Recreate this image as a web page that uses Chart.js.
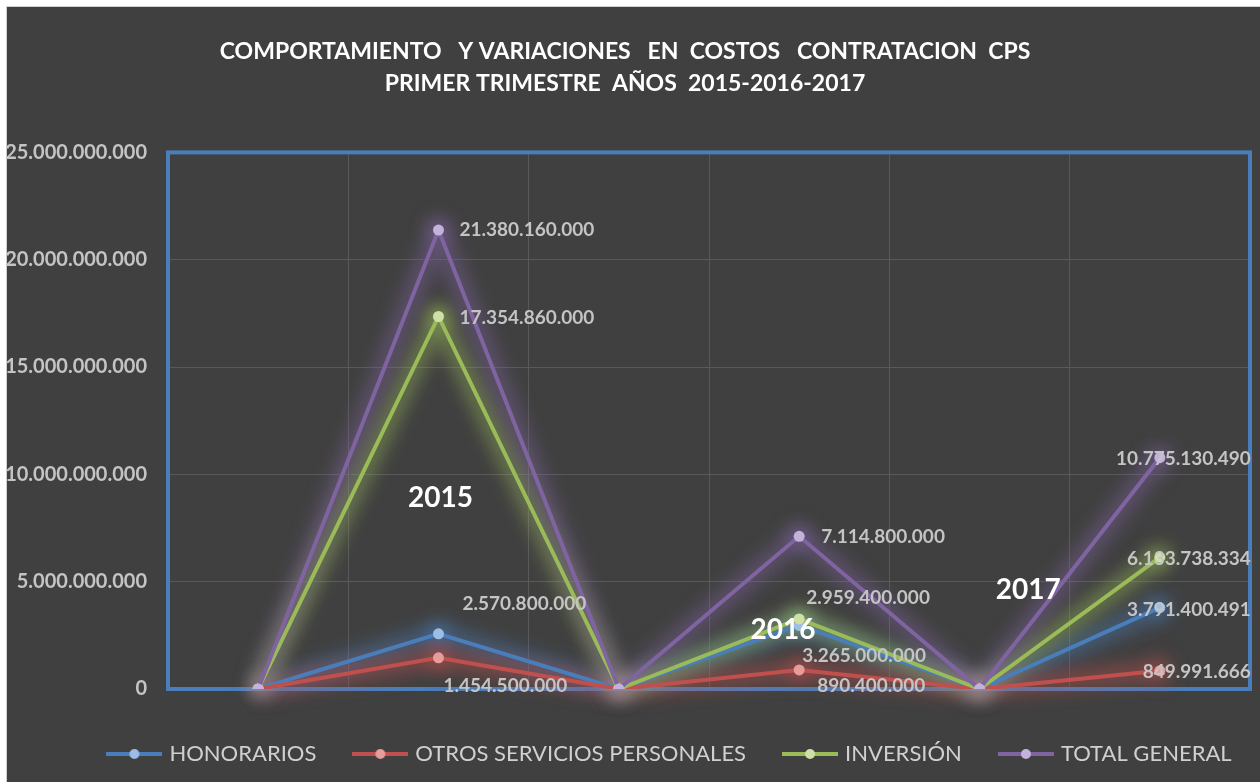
<!DOCTYPE html>
<html>
<head>
<meta charset="utf-8">
<script src="https://cdn.jsdelivr.net/npm/chart.js@4.4.1/dist/chart.umd.min.js"></script>
<style>
  html, body { margin: 0; padding: 0; background: #fff; }
</style>
</head>
<body>
<canvas id="chart1" width="1260" height="782"></canvas>
<script>
// datos del grafico
var categorias = ['', '2015', '', '2016', '', '2017'];
var honorarios = [0, 2570800000, 0, 2959400000, 0, 3791400491];
var otros = [0, 1454500000, 0, 890400000, 0, 849991666];
var inversion = [0, 17354860000, 0, 3265000000, 0, 6133738334];
var totalGeneral = [0, 21380160000, 0, 7114800000, 0, 10775130490];
var ticksY = [0, 5000000000, 10000000000, 15000000000, 20000000000, 25000000000];
var anios = ['2015', '2016', '2017'];

function puntos(n) {
  return String(n).replace(/\B(?=(\d{3})+(?!\d))/g, '.');
}

function iconoLeyenda(linea, punto) {
  var c = document.createElement('canvas');
  c.width = 56; c.height = 12;
  var g = c.getContext('2d');
  g.strokeStyle = linea; g.lineWidth = 4;
  g.beginPath(); g.moveTo(0, 6); g.lineTo(56, 6); g.stroke();
  g.fillStyle = punto;
  g.beginPath(); g.arc(28, 6, 5, 0, Math.PI * 2); g.fill();
  return c;
}

var colores = ['#4a7ebb', '#c0504d', '#9bbb59', '#8064a2'];
var coloresPunto = ['#9cbde6', '#e59c9a', '#cfe0a6', '#c2b2dc'];
var brillo = ['rgba(74,126,187,0.5)', 'rgba(192,80,77,0.5)', 'rgba(155,187,89,0.5)', 'rgba(128,100,162,0.5)'];
var iconos = colores.map(function (c, i) { return iconoLeyenda(c, coloresPunto[i]); });

// posicion de cada etiqueta respecto a su punto [dx, dy, align]
var posEtiquetas = [
  { 1: [24, -30, 'left'], 3: [7, -28, 'left'], 5: [91, 2, 'right'] },
  { 1: [5, 28, 'left'], 3: [18, 16, 'left'], 5: [91, 1, 'right'] },
  { 1: [21, 1, 'left'], 3: [3, 37, 'left'], 5: [91, 2, 'right'] },
  { 1: [21, 0, 'left'], 3: [22, 1, 'left'], 5: [91, 1, 'right'] }
];

var fondo = {
  id: 'fondo',
  beforeDraw: function (chart) {
    var ctx = chart.ctx;
    ctx.save();
    ctx.fillStyle = '#ffffff';
    ctx.fillRect(0, 0, chart.width, chart.height);
    ctx.fillStyle = '#404040';
    ctx.fillRect(7, 7, chart.width - 7, chart.height - 7);
    ctx.strokeStyle = '#cfcfcf';
    ctx.lineWidth = 1;
    ctx.beginPath();
    ctx.moveTo(6.5, chart.height); ctx.lineTo(6.5, 6.5); ctx.lineTo(chart.width, 6.5);
    ctx.stroke();
    ctx.restore();
  }
};

var marco = {
  id: 'marco',
  beforeDatasetsDraw: function (chart) {
    var a = chart.chartArea, ctx = chart.ctx;
    ctx.save();
    ctx.strokeStyle = '#4a7ebb';
    ctx.lineWidth = 4;
    ctx.strokeRect(a.left, a.top, a.right - a.left, a.bottom - a.top);
    // resplandor de las lineas
    ctx.filter = 'blur(9px)';
    ctx.lineJoin = 'round';
    for (var i = 0; i < chart.data.datasets.length; i++) {
      var pts = chart.getDatasetMeta(i).data;
      var vals = chart.data.datasets[i].data;
      ctx.strokeStyle = brillo[i];
      ctx.fillStyle = brillo[i];
      ctx.lineWidth = 18;
      ctx.beginPath();
      pts.forEach(function (p, j) { if (j === 0) ctx.moveTo(p.x, p.y); else ctx.lineTo(p.x, p.y); });
      ctx.stroke();
      pts.forEach(function (p, j) {
        if (!vals[j]) return;
        ctx.beginPath(); ctx.arc(p.x, p.y, 12, 0, Math.PI * 2); ctx.fill();
      });
    }
    // halo claro de los puntos en cero
    ctx.fillStyle = 'rgba(220,170,190,0.45)';
    chart.getDatasetMeta(3).data.forEach(function (p, j) {
      if (totalGeneral[j]) return;
      ctx.beginPath(); ctx.arc(p.x, p.y, 9, 0, Math.PI * 2); ctx.fill();
    });
    ctx.restore();
  }
};

var etiquetas = {
  id: 'etiquetas',
  afterDatasetsDraw: function (chart) {
    var ctx = chart.ctx;
    ctx.save();
    ctx.font = 'bold 19px Lato';
    ctx.fillStyle = '#c4c4c4';
    ctx.textBaseline = 'middle';
    chart.data.datasets.forEach(function (ds, i) {
      var meta = chart.getDatasetMeta(i);
      meta.data.forEach(function (pt, j) {
        var p = posEtiquetas[i][j];
        if (!p || !ds.data[j]) return;
        ctx.textAlign = p[2];
        ctx.fillText(puntos(ds.data[j]), pt.x + p[0], pt.y + p[1]);
      });
    });
    // textos de los años
    var x = chart.scales.x, y = chart.scales.y;
    var sitios = [[1.011, 8.89e9], [2.91, 2.75e9], [4.27, 4.61e9]];
    ctx.font = 'bold 28px Lato';
    ctx.fillStyle = '#ffffff';
    ctx.textAlign = 'center';
    anios.forEach(function (t, k) {
      ctx.fillText(t, x.getPixelForValue(sitios[k][0]), y.getPixelForValue(sitios[k][1]));
    });
    ctx.restore();
  },
  afterLayout: function (chart) {
    chart.legend.left += 46;
    chart.legend.right += 46;
  }
};

function serie(nombre, datos, i, orden) {
  return {
    label: nombre,
    data: datos,
    borderColor: colores[i],
    backgroundColor: coloresPunto[i],
    pointBackgroundColor: coloresPunto[i],
    pointBorderWidth: 0,
    pointRadius: 5.5,
    borderWidth: 4,
    tension: 0,
    order: orden
  };
}

var chart1 = new Chart(document.getElementById('chart1'), {
  type: 'line',
  data: {
    labels: categorias,
    datasets: [
      serie('HONORARIOS', honorarios, 0, 4),
      serie('OTROS SERVICIOS PERSONALES', otros, 1, 3),
      serie('INVERSIÓN', inversion, 2, 2),
      serie('TOTAL GENERAL', totalGeneral, 3, 1)
    ]
  },
  options: {
    responsive: false,
    animation: false,
    layout: { padding: { left: 0, right: 10, top: 0, bottom: 7 } },
    plugins: {
      title: {
        display: true,
        text: ['COMPORTAMIENTO   Y VARIACIONES   EN  COSTOS   CONTRATACION  CPS', 'PRIMER TRIMESTRE  AÑOS  2015-2016-2017'],
        color: '#ffffff',
        font: { family: 'Lato', size: 23, weight: 'bold', lineHeight: 1.4 },
        padding: { top: 35, bottom: 53 }
      },
      legend: {
        position: 'bottom',
        labels: {
          color: '#d0d0d0',
          font: { family: 'Lato', size: 22 },
          usePointStyle: true,
          pointStyleWidth: 48,
          padding: 40,
          sort: function (a, b) { return a.datasetIndex - b.datasetIndex; },
          generateLabels: function (chart) {
            var items = Chart.defaults.plugins.legend.labels.generateLabels(chart);
            items.forEach(function (it) { it.pointStyle = iconos[it.datasetIndex]; });
            return items;
          }
        }
      },
      tooltip: { enabled: false }
    },
    scales: {
      x: {
        offset: true,
        grid: { color: '#595959', offset: true, drawTicks: false },
        border: { display: false },
        ticks: { display: false },
        afterFit: function (s) { s.height = 14; }
      },
      y: {
        min: 0,
        max: 25000000000,
        grid: { color: '#595959', drawTicks: false },
        border: { display: false },
        afterBuildTicks: function (s) { s.ticks = ticksY.map(function (v) { return { value: v }; }); },
        afterFit: function (s) { s.width = 168; },
        ticks: {
          padding: 21,
          color: '#c4c4c4',
          font: { family: 'Lato', size: 20, weight: 'bold' },
          callback: function (v) { return puntos(v); }
        }
      }
    }
  },
  plugins: [fondo, marco, etiquetas]
});
</script>
</body>
</html>
